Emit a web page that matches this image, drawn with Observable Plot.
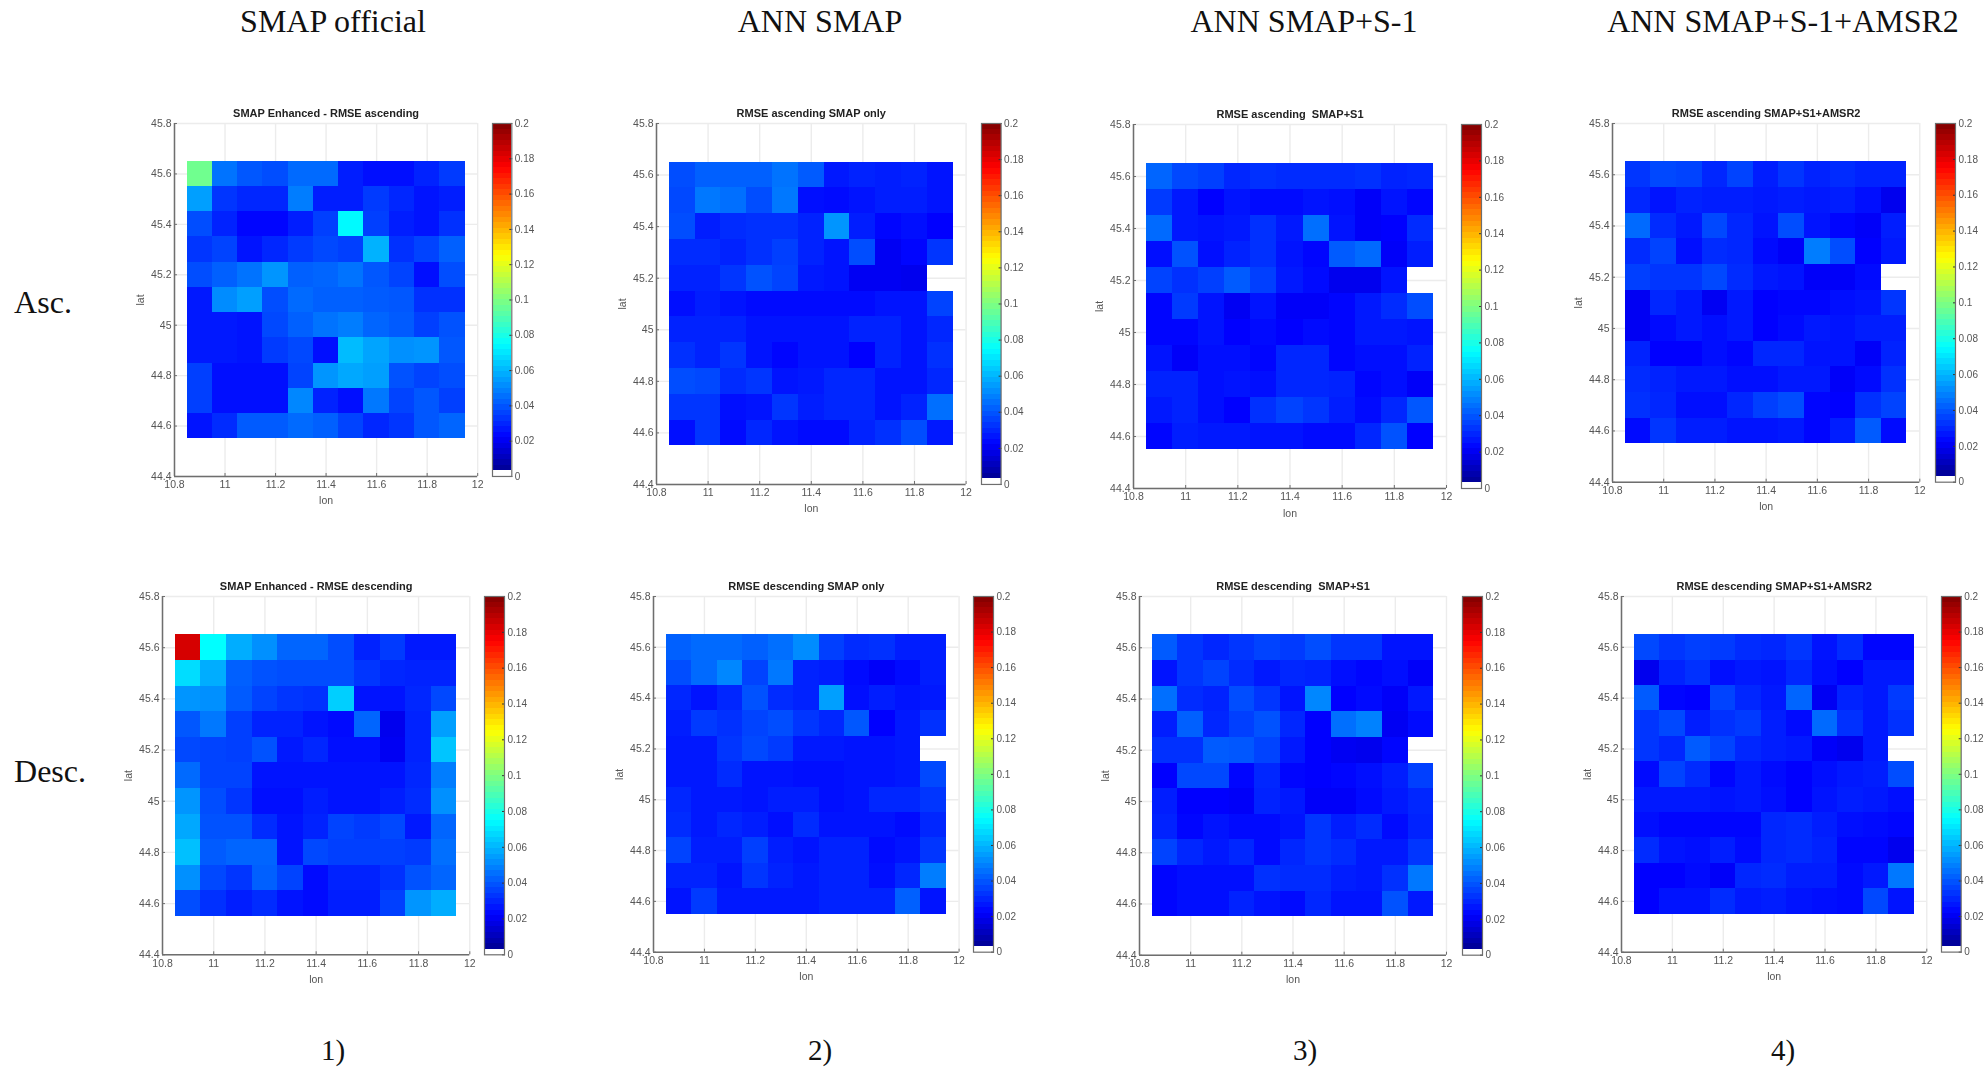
<!DOCTYPE html>
<html><head><meta charset="utf-8">
<script src="https://cdn.jsdelivr.net/npm/d3@7"></script>
<script src="https://cdn.jsdelivr.net/npm/@observablehq/plot@0.6"></script>
<style>
html,body{margin:0;padding:0;background:#fff;}
#page{position:relative;width:1988px;height:1068px;overflow:hidden;background:#fff;}
#page svg{position:absolute;overflow:visible;background:transparent;filter:blur(0.45px);}
.lab{position:absolute;font-family:"Liberation Serif",serif;color:#111;white-space:nowrap;transform:translate(-50%,-50%);}
</style></head><body><div id="page"></div>
<script>
const lons=[10.9,11,11.1,11.2,11.3,11.4,11.5,11.6,11.7,11.8,11.9];
const lats=[45.6,45.5,45.4,45.3,45.2,45.1,45,44.9,44.8,44.7,44.6];
const lonTicks=[10.8,11,11.2,11.4,11.6,11.8,12];
const latTicks=[44.4,44.6,44.8,45,45.2,45.4,45.6,45.8];
const cbTicks=[0,.02,.04,.06,.08,.1,.12,.14,.16,.18,.2];
const titles=["SMAP Enhanced - RMSE ascending","RMSE ascending SMAP only","RMSE ascending  SMAP+S1","RMSE ascending SMAP+S1+AMSR2","SMAP Enhanced - RMSE descending","RMSE descending SMAP only","RMSE descending  SMAP+S1","RMSE descending SMAP+S1+AMSR2"];
const columnHeads=["SMAP official","ANN SMAP","ANN SMAP+S-1","ANN SMAP+S-1+AMSR2"];
const rowHeads=["Asc.","Desc."];
const footers=["1)","2)","3)","4)"];
// RMSE values (x 0.001), rows north to south
const ascOfficial=[[97,46,40,38,44,44,28,25,25,29,34],[55,33,30,30,48,28,28,34,30,26,28],[38,29,23,23,28,35,74,35,28,26,32],[33,36,26,30,34,37,35,59,32,36,42],[38,42,46,53,42,43,46,40,36,25,38],[27,51,55,38,44,42,42,41,40,32,32],[27,27,26,37,42,46,48,43,41,35,39],[27,27,26,34,37,25,61,56,52,53,40],[35,25,25,25,36,53,57,55,39,36,38],[35,25,25,25,50,29,25,47,36,40,35],[26,31,41,41,44,42,36,30,33,40,43]];
const ascSmap=[[38,42,42,42,46,41,27,29,28,29,26],[37,47,45,38,47,25,24,26,28,28,26],[38,28,31,32,32,29,53,28,23,25,22],[31,31,29,32,35,29,26,38,20,23,33],[29,29,33,39,36,27,26,20,20,19,null],[25,28,26,24,24,24,24,24,26,26,36],[29,29,29,26,26,26,26,29,29,26,30],[32,29,33,26,23,26,26,22,29,26,32],[38,37,31,33,26,27,30,30,26,26,30],[33,33,25,26,33,28,30,30,26,29,45],[25,33,24,30,26,24,24,29,32,38,27]];
const ascS1=[[43,37,35,30,32,31,31,31,32,29,30],[34,27,22,26,24,24,26,25,21,26,23],[44,27,26,27,32,27,45,26,21,22,31],[25,39,25,29,32,26,23,41,44,21,28],[36,32,35,41,35,27,24,19,19,26,null],[23,34,26,20,26,21,21,23,27,31,38],[23,23,26,22,24,22,24,23,27,27,26],[26,21,25,25,23,30,30,23,25,25,29],[29,29,25,26,25,30,30,29,23,25,21],[27,29,25,22,32,36,33,28,24,30,40],[23,28,27,27,26,26,24,24,30,39,22]];
const ascAmsr=[[33,37,36,30,36,28,33,29,31,29,29],[30,26,29,28,28,27,28,27,28,25,19],[44,31,27,37,30,26,38,26,23,21,28],[31,36,25,31,30,24,21,48,38,22,27],[35,33,33,37,31,27,26,21,21,24,null],[20,30,27,20,27,22,23,23,25,26,33],[20,24,27,25,27,22,24,27,26,28,28],[29,22,22,25,23,30,30,26,26,21,29],[31,29,27,27,25,25,27,27,21,24,32],[32,30,25,25,30,35,38,23,22,32,36],[24,33,28,28,26,26,27,23,28,41,24]];
const descOfficial=[[183,75,58,52,43,43,38,29,34,27,27],[68,58,42,39,38,38,38,33,30,29,29],[53,52,41,36,33,32,65,26,26,30,37],[40,47,35,29,29,26,24,43,19,29,55],[37,36,35,39,27,30,25,25,20,29,63],[44,36,36,26,26,26,26,26,26,30,48],[53,38,33,25,25,28,26,26,28,31,52],[57,39,39,31,26,29,36,34,37,27,43],[62,41,43,43,26,37,35,35,35,34,45],[52,37,33,42,36,24,29,29,32,39,43],[38,32,28,31,26,24,28,28,35,53,58]];
const descSmap=[[42,44,44,42,45,51,35,31,32,28,28],[38,44,50,36,47,29,28,24,21,24,28],[30,26,30,39,31,29,55,25,28,26,27],[28,34,32,36,38,33,30,40,22,27,32],[27,27,33,37,34,27,27,26,26,27,null],[27,27,31,26,26,25,25,26,26,27,37],[30,27,27,26,28,28,25,26,30,30,33],[31,27,30,28,25,31,26,26,26,24,30],[36,28,28,35,28,26,29,29,24,26,33],[29,29,26,33,29,27,29,29,25,30,48],[26,34,27,27,27,27,29,29,29,42,26]];
const descS1=[[41,33,30,33,36,34,38,33,33,26,26],[26,33,36,31,27,30,29,25,23,25,21],[45,31,29,38,33,26,50,22,24,21,27],[28,42,30,35,39,30,22,45,49,20,24],[32,32,41,40,36,27,22,20,19,23,null],[22,37,37,23,30,23,22,23,25,28,35],[28,22,22,21,29,27,21,21,24,27,30],[29,23,26,24,24,26,33,28,31,24,29],[36,30,27,30,24,30,33,31,27,27,33],[23,25,25,25,32,31,31,28,27,32,47],[23,25,25,29,26,24,30,26,26,39,27]];
const descAmsr=[[37,33,35,34,31,30,33,26,31,23,23],[19,29,32,25,27,26,30,25,22,27,27],[41,23,22,36,30,27,43,20,29,27,34],[33,37,28,32,34,28,24,44,32,27,32],[33,30,41,36,30,28,27,21,19,27,null],[24,36,31,23,27,24,22,25,27,28,38],[27,27,27,26,27,25,22,26,28,27,25],[25,23,23,23,23,30,31,28,25,24,23],[31,26,25,28,24,30,31,29,23,23,19],[22,22,24,21,30,31,28,28,24,27,47],[22,26,26,31,27,28,26,25,24,37,26]];
const grids=[ascOfficial,ascSmap,ascS1,ascAmsr,descOfficial,descSmap,descS1,descAmsr];

// frame geometry [left,right,top,bottom,cbLeft,cbRight]
const frames=[[173.5,476.7,122.7,475.7,491.7,511],[655.7,965.3,123.3,484.3,980.7,1000.3],[1132.7,1445.7,123.7,487.7,1461.3,1481.3],[1612,1919.3,123.3,482,1934.7,1954.7],[161.7,469,596,954.3,484,504],[652.7,958.3,596,951.7,973.3,993.3],[1139.3,1446.3,596,954.7,1461.7,1481.7],[1620.7,1926,596,951.7,1941,1960.7]];
const M={l:50,r:12,t:28,b:40};
const font="Liberation Sans, Arial, sans-serif";
const axisGrey="#6e6e6e", textGrey="#555", gridGrey="#ececec";

// jet, with the colorbar's 64 discrete levels and the lowest one left white
const jet={type:"linear",domain:[0,.022,.075,.125,.175,.2],range:["#000080","#0000ff","#00ffff","#ffff00","#ff0000","#800000"],interpolate:"rgb",clamp:true};
const jetColor=d3.scaleLinear().domain(jet.domain).range(jet.range).interpolate(d3.interpolateRgb).clamp(true);
const levels=d3.range(64).map(i=>({y1:i*.2/64,y2:(i+1)*.2/64,v:(i+.5)*.2/64,blank:i===0}));
const page=document.getElementById("page");
function place(svg,left,top){svg.style.left=left+"px";svg.style.top=top+"px";page.appendChild(svg);}

grids.forEach((grid,k)=>{
  const [L,R,T,B,cL,cR]=frames[k];
  const cells=grid.flatMap((row,r)=>row.map((v,c)=>({lon:lons[c],lat:lats[r],v:v==null?null:v/1000}))).filter(d=>d.v!=null);
  const W=R-L,H=B-T;
  const main=Plot.plot({
    width:W+M.l+M.r,height:H+M.t+M.b,marginLeft:M.l,marginRight:M.r,marginTop:M.t,marginBottom:M.b,
    style:{fontFamily:font,fontSize:"10.5px",color:textGrey,background:"transparent"},
    x:{domain:[10.8,12]},y:{domain:[44.4,45.8]},color:jet,
    marks:[
      Plot.gridX(lonTicks,{stroke:gridGrey,strokeOpacity:1,strokeWidth:1.4}),
      Plot.gridY(latTicks,{stroke:gridGrey,strokeOpacity:1,strokeWidth:1.4}),
      Plot.rect(cells,{x1:d=>d.lon-.05,x2:d=>d.lon+.05,y1:d=>d.lat-.05,y2:d=>d.lat+.05,fill:"v",shapeRendering:"crispEdges"}),
      Plot.axisX(lonTicks,{anchor:"bottom",tickSize:-3,tickPadding:7.5,stroke:axisGrey,fill:textGrey,tickFormat:d3.format("~g"),label:"lon",labelAnchor:"center",labelArrow:"none",labelOffset:28,strokeWidth:1}),
      Plot.axisY(latTicks,{anchor:"left",tickSize:-3,tickPadding:6,stroke:axisGrey,fill:textGrey,tickFormat:d3.format("~g"),label:"lat",labelAnchor:"center",labelArrow:"none",labelOffset:38,strokeWidth:1}),
      Plot.ruleX([10.8],{stroke:axisGrey,strokeWidth:1.5}),
      Plot.ruleY([44.4],{stroke:axisGrey,strokeWidth:1.5}),
      Plot.text([titles[k]],{frameAnchor:"top",dy:-6.5,fontWeight:"bold",fontSize:11,fill:"#222",lineAnchor:"bottom"})
    ]
  });
  place(main,L-M.l,T-M.t);
  const cW=cR-cL;
  const bar=Plot.plot({
    width:cW+2+34,height:H+20,marginLeft:2,marginRight:34,marginTop:10,marginBottom:10,
    style:{fontFamily:font,fontSize:"10px",color:textGrey,background:"transparent"},
    x:{domain:[0,1],axis:null},y:{domain:[0,.2]},color:jet,
    marks:[
      Plot.rect(levels,{x1:0,x2:1,y1:"y1",y2:"y2",fill:d=>d.blank?"#fff":jetColor(d.v),shapeRendering:"crispEdges"}),
      Plot.axisY(cbTicks,{anchor:"right",tickSize:-3,tickPadding:6,stroke:"#333",fill:textGrey,tickFormat:d3.format("~g"),label:null}),
      Plot.frame({stroke:axisGrey,strokeWidth:1.2})
    ]
  });
  place(bar,cL-2,T-10);
});
// section labels, in the page text
const colX=[333,820,1304,1783];
const rowY=[302,771];
columnHeads.forEach((t,i)=>addLabel(t,colX[i],21,32));
rowHeads.forEach((t,i)=>addLabel(t,i?50:43,rowY[i],32));
footers.forEach((t,i)=>addLabel(t,i==2?1305:colX[i],1050,29));
function addLabel(t,x,y,size){const d=document.createElement("div");d.className="lab";d.textContent=t;d.style.left=x+"px";d.style.top=y+"px";d.style.fontSize=size+"px";page.appendChild(d);}
</script></body></html>
